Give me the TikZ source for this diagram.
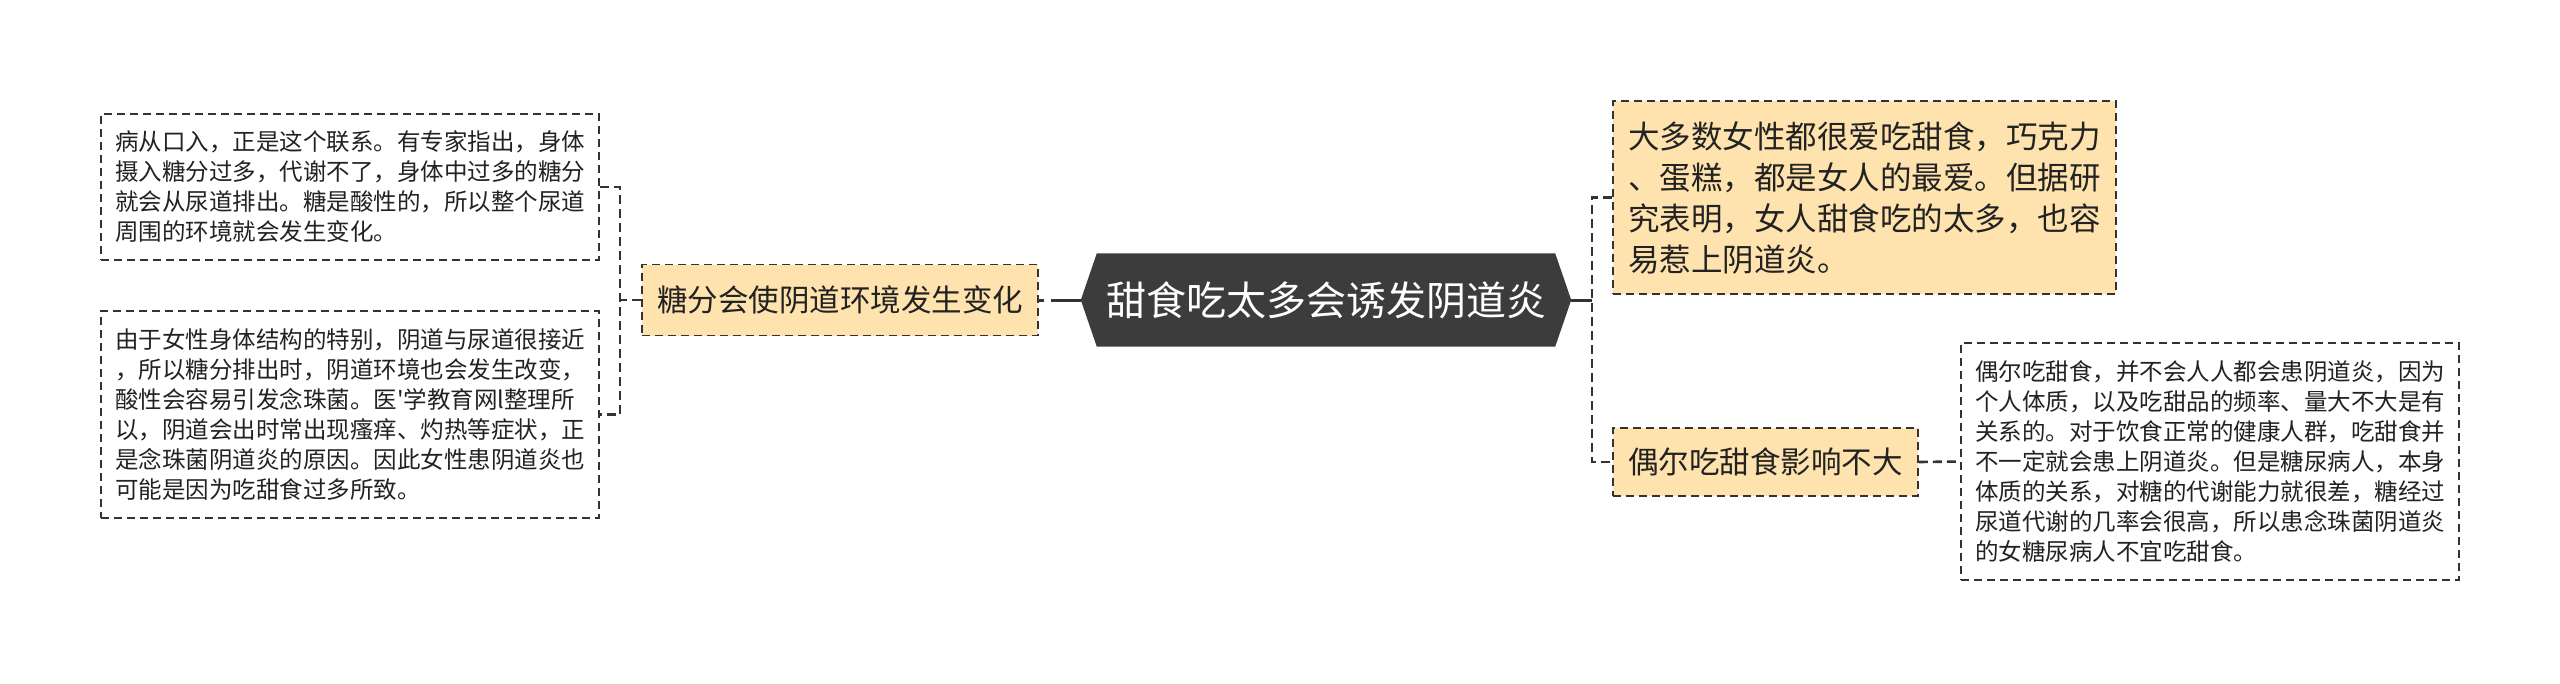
\documentclass[tikz,border=0pt]{standalone}
\usepackage{fontspec}
\setmainfont{Noto Sans CJK SC}
\newfontfamily\plainfont{Noto Sans CJK SC}[Ligatures=TeXOff]
\usetikzlibrary{calc,backgrounds}
\definecolor{rootfill}{HTML}{3C3C3C}
\definecolor{orangefill}{HTML}{FFE3AE}
\definecolor{linec}{HTML}{333333}
\definecolor{textc}{HTML}{222222}
\tikzset{
  dashbox/.style={draw=linec, line width=1.6pt, dash pattern=on 8pt off 5pt, text=textc, inner sep=0pt, align=left},
  leaf/.style={dashbox, font=\fontsize{23.5}{30}\selectfont},
  branch/.style={dashbox, fill=orangefill, font=\fontsize{30.5}{38}\selectfont},
  bigleaf/.style={dashbox, fill=orangefill, font=\fontsize{31.5}{41}\selectfont},
  rootnode/.style={inner sep=0pt, text=white, font=\fontsize{40}{48}\selectfont},
  conn/.style={draw=linec, line width=2.6pt, dash pattern=on 9pt off 5pt},
  solidconn/.style={draw=linec, line width=3pt},
}
\begin{document}
\begin{tikzpicture}[x=1pt,y=-1pt]
\useasboundingbox (0,0) rectangle (2560,683);

% root
\node[rootnode, minimum width=458pt, minimum height=93pt] (root) at (1326,300) {甜食吃太多会诱发阴道炎};
\coordinate (rootL) at ($(root.west)+(-16,0)$);
\coordinate (rootR) at ($(root.east)+(16,0)$);
\begin{scope}[on background layer]
\fill[white] (0,0) rectangle (2560,683);
\fill[rootfill] (rootL) -- (root.north west) -- (root.north east) -- (rootR) -- (root.south east) -- (root.south west) -- cycle;
\end{scope}

% left side
\node[branch, minimum width=396pt, minimum height=71pt] (b1) at (840,300) {糖分会使阴道环境发生变化};
\node[leaf, minimum width=498pt, minimum height=146pt] (l1) at (350,187) {病从口入，正是这个联系。有专家指出，身体\\摄入糖分过多，代谢不了，身体中过多的糖分\\就会从尿道排出。糖是酸性的，所以整个尿道\\周围的环境就会发生变化。};
\node[leaf, minimum width=498pt, minimum height=207pt] (l2) at (350,414.5) {由于女性身体结构的特别，阴道与尿道很接近\\，所以糖分排出时，阴道环境也会发生改变，\\酸性会容易引发念珠菌。医{\plainfont '}学教育网l整理所\\以，阴道会出时常出现瘙痒、灼热等症状，正\\是念珠菌阴道炎的原因。因此女性患阴道炎也\\可能是因为吃甜食过多所致。};

% right side
\node[bigleaf, minimum width=503pt, minimum height=193pt] (r1) at (1864.5,197.5) {大多数女性都很爱吃甜食，巧克力\\、蛋糕，都是女人的最爱。但据研\\究表明，女人甜食吃的太多，也容\\易惹上阴道炎。};
\node[branch, minimum width=305pt, minimum height=68pt] (b2) at (1765.5,462) {偶尔吃甜食影响不大};
\node[leaf, minimum width=498pt, minimum height=237pt] (l3) at (2210,461.5) {偶尔吃甜食，并不会人人都会患阴道炎，因为\\个人体质，以及吃甜品的频率、量大不大是有\\关系的。对于饮食正常的健康人群，吃甜食并\\不一定就会患上阴道炎。但是糖尿病人，本身\\体质的关系，对糖的代谢能力就很差，糖经过\\尿道代谢的几率会很高，所以患念珠菌阴道炎\\的女糖尿病人不宜吃甜食。};

% connectors
\coordinate (lx) at (620,300);
\coordinate (rx) at (1592,300);
\draw[draw=linec, line width=3pt, dash pattern=on 30pt off 7pt on 5pt off 3pt] (rootL) -- (b1.east);
\draw[conn] (b1.west) -- (lx);
\draw[conn] (l1.east) -| (lx) |- (l2.east);
\draw[solidconn] (rootR) -- (rx);
\draw[conn] (r1.west) -| (rx) |- (b2.west);
\draw[conn] (b2.east) -- (l3.west);
\end{tikzpicture}
\end{document}
